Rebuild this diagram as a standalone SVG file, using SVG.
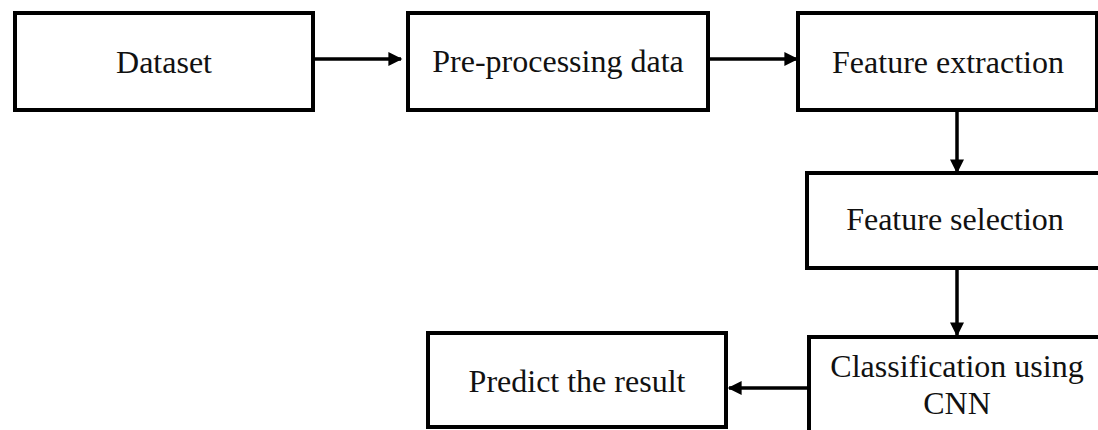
<svg xmlns="http://www.w3.org/2000/svg" width="1098" height="430" viewBox="0 0 1098 430">
<defs>
<style>
.box{fill:#fff;stroke:#000;stroke-width:4}
.lbl{font-family:"Liberation Serif","Times New Roman",serif;font-size:32px;fill:#111;text-anchor:middle}
.con{stroke:#000;stroke-width:3.5;fill:none;marker-end:url(#ah)}
</style>
<marker id="ah" viewBox="0 0 10 10" refX="9" refY="5" markerWidth="4.2" markerHeight="4" orient="auto" markerUnits="strokeWidth">
<path d="M0,0 L10,5 L0,10 z" fill="#000"/>
</marker>
</defs>
<rect width="1098" height="430" fill="#fff"/>
<g id="connectors">
<line class="con" x1="315" y1="59" x2="401" y2="59"/>
<line class="con" x1="710" y1="59" x2="797" y2="59"/>
<line class="con" x1="957" y1="112" x2="957" y2="172"/>
<line class="con" x1="957" y1="270" x2="957" y2="335"/>
<line class="con" x1="807" y1="388" x2="729" y2="388"/>
</g>
<g id="dataset">
<rect class="box" x="15" y="13" width="298" height="97"/>
<text class="lbl" x="164" y="73">Dataset</text>
</g>
<g id="preprocessing">
<rect class="box" x="408" y="13" width="300" height="97"/>
<text class="lbl" x="558" y="72">Pre-processing data</text>
</g>
<g id="feature-extraction">
<rect class="box" x="798" y="13" width="299" height="97"/>
<text class="lbl" x="948" y="73">Feature extraction</text>
</g>
<g id="feature-selection">
<rect class="box" x="807" y="173" width="300" height="95"/>
<text class="lbl" x="955" y="230">Feature selection</text>
</g>
<g id="classification">
<rect class="box" x="809" y="337" width="300" height="100"/>
<text class="lbl" x="957" y="377">Classification using</text>
<text class="lbl" x="957" y="414">CNN</text>
</g>
<g id="predict">
<rect class="box" x="428" y="333" width="298" height="94"/>
<text class="lbl" x="577" y="392">Predict the result</text>
</g>
</svg>
